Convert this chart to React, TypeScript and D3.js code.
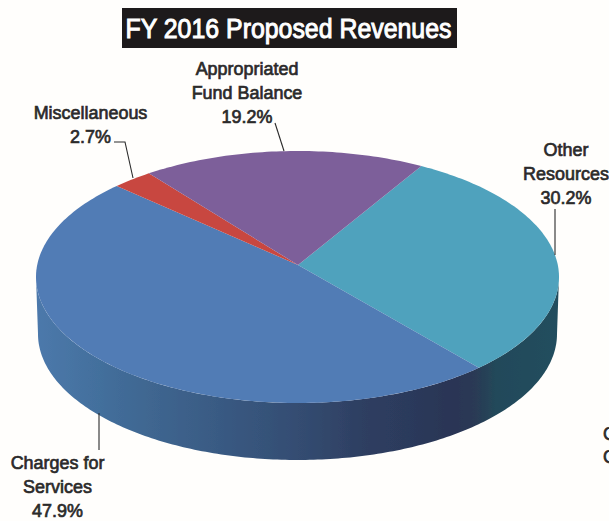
import React from "react";
import * as d3 from "d3";

const categories = ["Other Resources", "Charges for Services", "Miscellaneous", "Appropriated Fund Balance"];
const shares = [30.2, 47.9, 2.7, 19.2];
const topColors = ["#4fa2bd", "#517bb5", "#c8473f", "#7d5f9a"];
const wallStops: [number, string][] = [
  [0, "#4d79ab"], [0.1, "#44719f"], [0.22, "#3f6690"], [0.35, "#395a83"], [0.5, "#344d72"],
  [0.62, "#2e3f62"], [0.8, "#2a3555"], [0.84, "#2a3a55"], [0.88, "#23495a"], [1, "#234e5e"],
];

const W = 609, H = 521;
const cx = 297.5, cy = 277, rx = 261.5, ry = 126;
const ax = 298, ay = 265;
const depth = 57;
const bottomRx = 259.5;
const startDeg = 31;

function rimPoint(theta: number): [number, number] {
  // ray from the apex, in normalised ellipse space, hitting the unit circle
  const px = (ax - cx) / rx, py = (ay - cy) / ry;
  const dx = Math.sin(theta), dy = -Math.cos(theta);
  const b = px * dx + py * dy;
  const c = px * px + py * py - 1;
  const t = -b + Math.sqrt(b * b - c);
  return [cx + (px + t * dx) * rx, cy + (py + t * dy) * ry];
}

const arcs = d3.pie<number>().sort(null).value((d) => d)
  .startAngle((startDeg * Math.PI) / 180)
  .endAngle((startDeg * Math.PI) / 180 + 2 * Math.PI)(shares);

const line = d3.line();

function slicePath(a0: number, a1: number) {
  const n = Math.max(2, Math.ceil((a1 - a0) / 0.02));
  const pts: [number, number][] = [[ax, ay]];
  d3.range(n + 1).forEach((i) => pts.push(rimPoint(a0 + ((a1 - a0) * i) / n)));
  return line(pts) + "Z";
}

function wallPath() {
  const pts: [number, number][] = [];
  const n = 200;
  for (let i = 0; i <= n; i++) {
    const a = (Math.PI * i) / n;
    pts.push([cx + rx * Math.cos(a), cy + ry * Math.sin(a)]);
  }
  for (let i = n; i >= 0; i--) {
    const a = (Math.PI * i) / n;
    pts.push([cx + bottomRx * Math.cos(a), cy + depth + ry * Math.sin(a)]);
  }
  return line(pts) + "Z";
}

type Lab = { lines: string[]; x: number; y: number };
const labels: Lab[] = [
  { lines: ["Other", "Resources", "30.2%"], x: 566, y: 156 },
  { lines: ["Charges for", "Services", "47.9%"], x: 57.5, y: 469 },
  { lines: ["Miscellaneous", "2.7%"], x: 90.5, y: 119 },
  { lines: ["Appropriated", "Fund Balance", "19.2%"], x: 247, y: 75 },
];
const leaders: [number, number][][] = [
  [[555, 209], [555, 255]],
  [[99, 413], [99, 450]],
  [[114, 142], [125, 142], [133, 178]],
  [[275, 123], [284, 151]],
];
const clipped = ["C", "C"];

const font = "'Liberation Sans', sans-serif";
const labelSize = 18.5, labelSquash = 0.97, lineGap = 24;

export default function App() {
  return (
    <svg width={W} height={H} viewBox={`0 0 ${W} ${H}`} style={{ position: "absolute", left: 0, top: 0, background: "#fffefc" }}>
      <defs>
        <linearGradient id="wall" x1={cx - rx} x2={cx + rx} y1="0" y2="0" gradientUnits="userSpaceOnUse">
          {wallStops.map(([o, c]) => <stop key={o} offset={o} stopColor={c} />)}
        </linearGradient>
        <filter id="soft" x="-5%" y="-5%" width="110%" height="110%"><feGaussianBlur stdDeviation="0.7" /></filter>
      </defs>
      <rect x={122} y={8} width={335} height={40} fill="#1d1a1b" />
      <text transform="translate(288.5,38) scale(0.905,1)" textAnchor="middle" fill="#fff" stroke="#fff" strokeWidth={1} fontFamily={font} fontSize={27.5}>FY 2016 Proposed Revenues</text>
      <g filter="url(#soft)">
        <path d={wallPath()} fill="url(#wall)" />
        {arcs.map((a, i) => (
          <path key={categories[i]} d={slicePath(a.startAngle, a.endAngle)} fill={topColors[i]} />
        ))}
      </g>
      {leaders.map((l, i) => (
        <path key={i} d={line(l) ?? ""} fill="none" stroke="#2a2a2a" strokeWidth={1.1} />
      ))}
      {labels.map((l) =>
        l.lines.map((t, i) => (
          <text key={t} transform={`translate(${l.x},${l.y + i * lineGap}) scale(${labelSquash},1)`} textAnchor="middle" fill="#2b2a2a" stroke="#2b2a2a" strokeWidth={0.7} fontFamily={font} fontSize={labelSize}>{t}</text>
        ))
      )}
      {clipped.map((t, i) => (
        <text key={i} transform={`translate(603,${440 + i * 23}) scale(${labelSquash},1)`} fill="#2b2a2a" stroke="#2b2a2a" strokeWidth={0.7} fontFamily={font} fontSize={labelSize}>{t}</text>
      ))}
    </svg>
  );
}
